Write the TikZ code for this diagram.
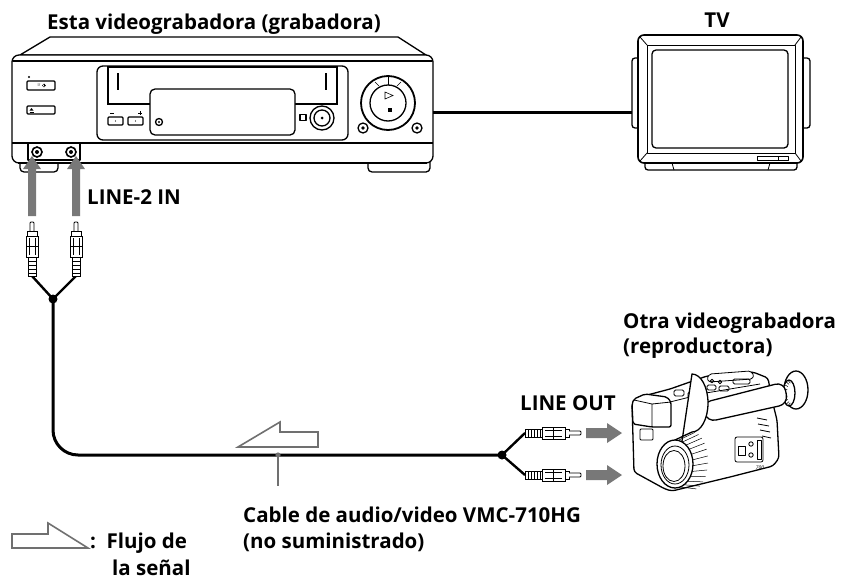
\documentclass[tikz,border=0pt]{standalone}
\usepackage{fontspec}
\setmainfont{Open Sans}
\definecolor{sgray}{RGB}{120,120,120}
\definecolor{fgray}{RGB}{112,112,112}
\begin{document}
\begin{tikzpicture}[x=1pt,y=-1pt,
  dev/.style={line width=1.3pt, line join=round, line cap=round},
  thinl/.style={line width=0.8pt, line join=round},
  cable/.style={line width=3pt, line join=round},
  branch/.style={line width=2.4pt, line join=round},
  flow/.style={draw=fgray, line width=1.6pt, line join=miter},
  lbl/.style={font=\fontsize{20.5}{24}\selectfont\bfseries, inner sep=0pt, anchor=base west}]
\useasboundingbox (0,0) rectangle (849,581);
\fill[white] (0,0) rectangle (849,581);

% ================= VCR =================
\draw[dev, fill=white, rounded corners=4] (20,158) -- (20,172) -- (58,172) -- (58,158);
\draw[dev, fill=white, rounded corners=4] (368,158) -- (368,172) -- (430,172) -- (430,158);
\draw[dev, fill=white] (20,55) -- (50,37) -- (398,37) -- (426,55) -- cycle;
\draw[dev, fill=white, rounded corners=7] (12,55) rectangle (433,163);
\draw[line width=1.8pt] (13,61) -- (432,61);
\draw[line width=1.6pt] (12,143) -- (433,143);
\draw[line width=2.2pt] (18,163) -- (427,163);
% left panel
\fill (29,77) circle[radius=1.2];
\draw[dev, fill=white, rounded corners=1] (27,81) rectangle (55,90);
\node[font=\fontsize{4}{4}\selectfont, inner sep=0pt] (pwr) at (39,85.5) {I/};
\draw[line width=0.4pt] (44,85.5) circle[radius=1.6];
\draw[line width=0.4pt] (44,83.5) -- (44,85.5);
\draw[dev, fill=white, rounded corners=1] (27,106) rectangle (55,114);
\fill (29.5,110.5) -- (31.5,108) -- (33.5,110.5) -- cycle;
\draw[line width=0.4pt] (29.5,111.8) -- (33.5,111.8);
% central panel
\draw[dev, rounded corners=6] (97,66) rectangle (348,140);
\draw[line width=1.9pt] (108,67) rectangle (337,104);
\draw[line width=1.3pt] (118,73) -- (118,90);
\draw[line width=1.3pt] (326,73) -- (326,90);
\draw[dev, fill=white, rounded corners=5] (150,89) rectangle (295,135);
\draw[dev, fill=white, rounded corners=1] (108,117) rectangle (123,125);
\draw[dev, fill=white, rounded corners=1] (128,117) rectangle (143,125);
\fill (115.5,121) circle[radius=0.6];
\fill (135.5,121) circle[radius=0.6];
\draw[line width=0.8pt] (110,113) -- (114,113);
\draw[line width=0.6pt] (138,113) -- (142,113) (140,111) -- (140,115);
\draw[dev] (159,122) circle[radius=3.5];
\fill (159,122) circle[radius=1.2];
\draw[dev] (300,114.5) rectangle (306,120.5);
\draw[dev] (322,118) circle[radius=12];
\draw[dev] (322,118) circle[radius=8];
\fill (322,118) circle[radius=1.5];
% right panel
\draw[line width=1.8pt] (388,103) circle[radius=27];
\draw[dev] (388,103) circle[radius=18];
\draw[line width=0.7pt] (388,76) -- (388,85);
\draw[line width=0.5pt] (375,82) -- (379,86) (401,82) -- (397,86);
\draw[line width=0.6pt] (385,92) -- (393,95.5) -- (385,99) -- cycle;
\fill (388,108) rectangle (391.5,111.5);
\draw[dev] (363,128) circle[radius=5];
\fill (363,128) circle[radius=1.8];
\draw[dev] (417,128) circle[radius=5];
\fill (417,128) circle[radius=1.8];
% jacks
\draw[dev] (28,143) -- (28,160) -- (80,160) -- (80,143);
\draw[line width=1.6pt] (37,152) circle[radius=5];
\fill (37,152) circle[radius=2];
\draw[line width=1.6pt] (71,152) circle[radius=5];
\fill (71,152) circle[radius=2];
\coordinate (vcrout) at (433,112);

% ================= TV =================
\draw[dev, fill=white, rounded corners=3] (632,58) rectangle (641,128);
\draw[dev, fill=white, rounded corners=3] (800,58) rectangle (810,128);
\draw[dev, fill=white, rounded corners=3] (645,160) -- (645,170) -- (797,170) -- (797,160);
\draw[thinl] (672,163) -- (674,170) (770,163) -- (768,170);
\draw[line width=1.6pt, fill=white, rounded corners=6] (638,35) rectangle (803,163);
\draw[thinl] (647,45) rectangle (795,153);
\draw[thinl] (640,37) -- (647,45) (801,37) -- (795,45) (640,161) -- (647,153) (801,161) -- (795,153);
\draw[dev, rounded corners=4] (652,50) rectangle (788,148);
\draw[thinl] (757,156) rectangle (788,160);
\draw[thinl] (778,156) -- (778,160);
\coordinate (tvin) at (632,112);

% ================= Camcorder =================
\draw[dev, fill=white, rounded corners=3] (632,404) -- (636,398) -- (670,389) -- (707,376) -- (753,372) -- (768,378) -- (772,400) -- (777,420) -- (779,458) -- (773,466) -- (730,477) -- (672,491) -- (665,489) -- (634,472) -- cycle;
% top raised strip and buttons
\draw[thinl, fill=white, rounded corners=1.5] (707,378) -- (710,374) -- (750,371) -- (754,375) -- (752,379) -- (709,382) -- cycle;
\draw[thinl] (670,402) -- (706,393) -- (760,384);
\draw[thinl, rounded corners=1.5] (674,390) rectangle (684,396);
\draw[thinl, rounded corners=1.5] (688,392) rectangle (699,398);
\draw[thinl, rounded corners=1.5] (707,385) rectangle (716,390);
\draw[thinl, rounded corners=1.5] (719,386) rectangle (729,391);
\draw[thinl] (712,381) circle[radius=1.8];
\draw[thinl] (720,382) circle[radius=1.8];
\draw[thinl, rounded corners=1.5] (733,379) rectangle (750,384);
% front hood
\draw[dev, fill=white, rounded corners=2] (632,404) -- (634,399) -- (645,394) -- (667,397) -- (671,402) -- (671,427) -- (652,427) -- (633,424) -- cycle;
\draw[thinl] (634,400) -- (652,404) -- (671,402) (652,404) -- (652,427);
\draw[thinl, rounded corners=1] (640,429) rectangle (653,440);
% grip ridges
\draw[thinl] (757,418) -- (767,420) (758,424) -- (769,426) (760,430) -- (770,432) (762,436) -- (771,438);
% side panel
\draw[thinl, fill=white, rounded corners=2] (735,437) rectangle (763,462);
\draw[thinl] (751,444) circle[radius=2.2];
\draw[thinl] (751,455) circle[radius=2.2];
\draw[thinl] (757,440) rectangle (761,459);
\draw[thinl] (738,446) rectangle (745,455);
\node[font=\fontsize{5}{5}\selectfont\itshape, inner sep=0pt] (logo) at (760,468) {700};
% eyecup
\draw[dev, fill=white] (796,390) ellipse [x radius=12, y radius=19];
\draw[dev, fill=white] (789,393) ellipse [x radius=6, y radius=13];
\foreach \a in {100,120,...,260} \draw[line width=0.5pt] ({789+6*cos(\a)},{393+13*sin(\a)}) -- ({791+4*cos(\a)},{393+10*sin(\a)});
% viewfinder tube
\draw[dev, fill=white, rounded corners=9] (702,403) -- (784,382) -- (788,404) -- (707,422) -- cycle;
% lens cylinder
\draw[dev, fill=white] (675,440) -- (692,432) arc[start angle=-90, end angle=90, x radius=16, y radius=-29] -- (675,488) -- cycle;
\foreach \a in {-80,-66,...,80} \draw[line width=0.5pt] ({675+18*cos(\a)},{464+24*sin(\a)}) -- ({692+16*cos(\a)},{461+29*sin(\a)});
\draw[dev, fill=white] (675,464) ellipse [x radius=18, y radius=24];
\draw[thinl] (675,465) ellipse [x radius=14, y radius=19];
\draw[thinl] (674,466) ellipse [x radius=11, y radius=15.5];

% ================= Cables =================
\coordinate (j1) at (53,299);
\coordinate (j2) at (502,455);
\coordinate (pl1) at (32,276);
\coordinate (pl2) at (76,276);
\coordinate (p3) at (525,433);
\coordinate (p4) at (525,475);
\draw[cable] (vcrout) -- (tvin);
\draw[branch] (pl1) -- (j1) -- (pl2);
\draw[cable, rounded corners=25] (j1) |- (j2);
\draw[branch] (p3) -- (j2) -- (p4);
\fill (j1) circle[radius=4.5];
\fill (j2) circle[radius=4.5];

% vertical plugs
\foreach \c in {32,76}{
  \draw[thinl, fill=white, rounded corners=1] (\c-2,231) -- (\c-2,222) -- (\c+2,222) -- (\c+2,231);
  \draw[line width=1pt, fill=white] (\c-5,231) rectangle (\c+5,236);
  \draw[line width=1pt, fill=white] (\c-6,236) rectangle (\c+6,257);
  \draw[thinl] (\c-3,238) -- (\c-3,255) (\c+3,238) -- (\c+3,255) (\c-6,246) -- (\c+6,246);
  \draw[line width=1pt, fill=white] (\c-4,257) rectangle (\c+4,276);
  \foreach \yy in {261,265,269,273} \draw[thinl] (\c-4,\yy) -- (\c+4,\yy);
}
% horizontal plugs and arrows
\foreach \cy in {433,475}{
  \draw[line width=1pt, fill=white] (525,\cy-4) rectangle (542,\cy+4);
  \foreach \xx in {528,531,534,537,540} \draw[thinl] (\xx,\cy-4) -- (\xx,\cy+4);
  \draw[line width=1pt, fill=white] (542,\cy-6) rectangle (565,\cy+6);
  \draw[thinl] (545,\cy-3) -- (562,\cy-3) (545,\cy+3) -- (562,\cy+3) (553,\cy-6) -- (553,\cy+6);
  \draw[line width=1pt, fill=white] (565,\cy-4) rectangle (569,\cy+4);
  \draw[thinl, fill=white, rounded corners=1] (569,\cy-2) -- (581,\cy-2) -- (581,\cy+2) -- (569,\cy+2);
  \fill[sgray] (586,\cy-5) -- (607,\cy-5) -- (607,\cy-10) -- (622,\cy) -- (607,\cy+10) -- (607,\cy+5) -- (586,\cy+5) -- cycle;
}
% up arrows into VCR
\foreach \c in {32,76}{
  \fill[sgray] (\c-4,216) -- (\c-4,169) -- (\c-9,169) -- (\c,156) -- (\c+9,169) -- (\c+4,169) -- (\c+4,216) -- cycle;
}

% callout and flow arrow
\coordinate (cb) at (278,455);
\coordinate (cbend) at (278,486);
\fill[fgray] (cb) circle[radius=2.6];
\draw[fgray, line width=2pt] (cb) -- (cbend);
\draw[flow] (238,447) -- (280,422) -- (280,432) -- (318,432) -- (318,447) -- cycle;
\draw[flow] (12,534) -- (48,534) -- (48,523) -- (88,548) -- (12,548) -- cycle;

% ================= Labels =================
\node[lbl] (tvcr) at (47,29) {Esta videograbadora (grabadora)};
\node[lbl, anchor=base] (ttv) at (717,27) {TV};
\node[lbl] (tline2) at (87,204) {LINE-2 IN};
\node[lbl] (totra) at (623,328) {Otra videograbadora};
\node[lbl] (trep) at (623,353) {(reproductora)};
\node[lbl] (tout) at (520,410) {LINE OUT};
\node[lbl] (tcab) at (243,522) {Cable de audio/video VMC-710HG};
\node[lbl] (tno) at (243,548) {(no suministrado)};
\node[lbl] (tflu) at (90,548) {:\ \ Flujo de};
\node[lbl] (tsen) at (112,575) {la señal};
\end{tikzpicture}
\end{document}
